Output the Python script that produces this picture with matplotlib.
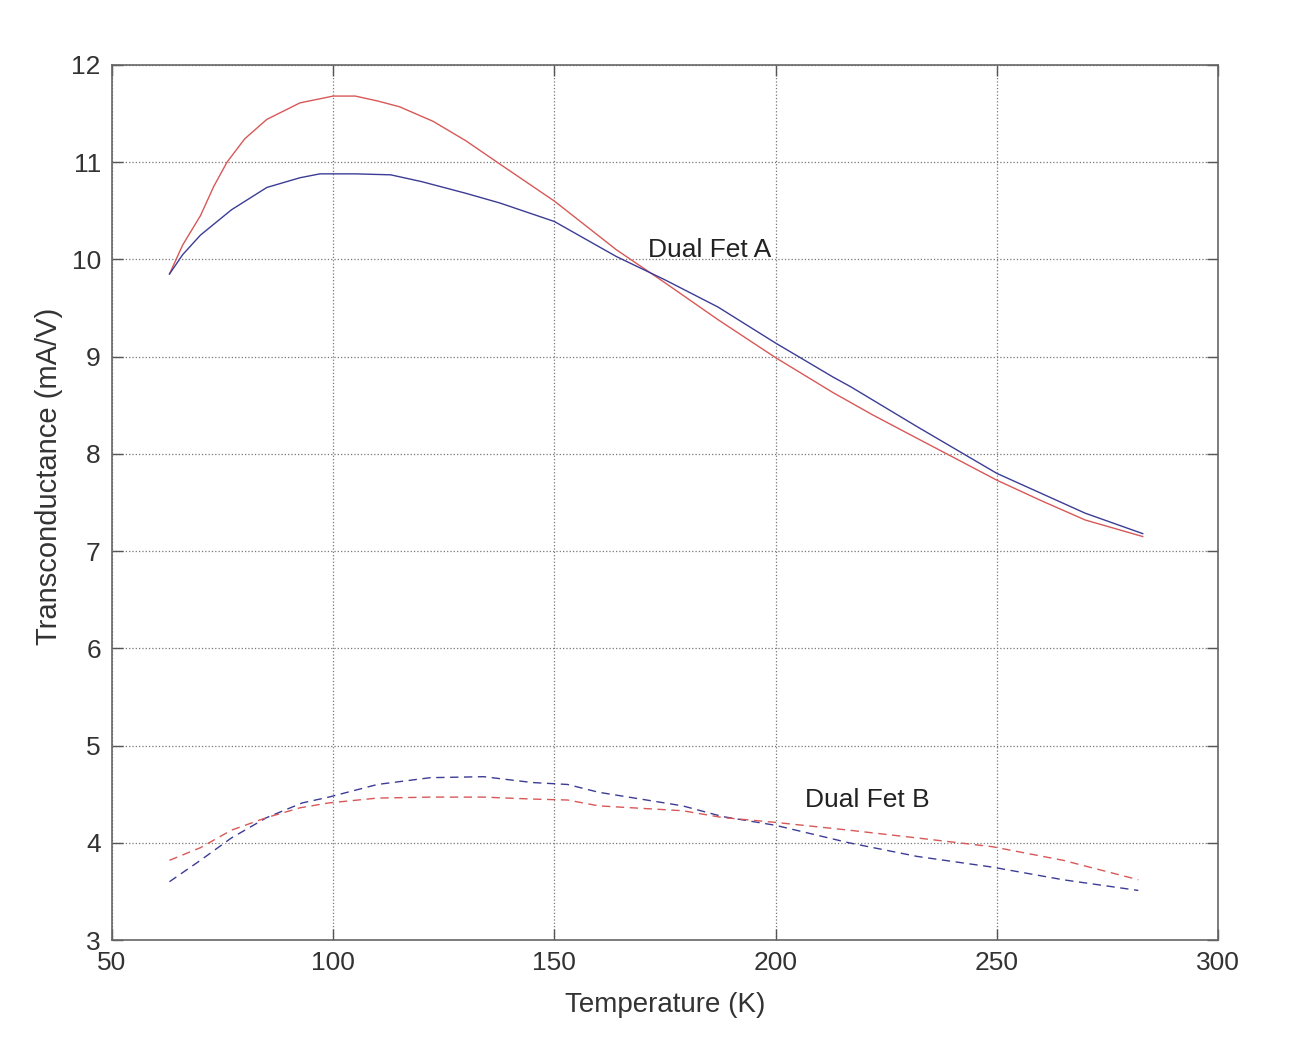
import matplotlib
matplotlib.use("Agg")
import matplotlib.pyplot as plt

plt.rcParams['font.family'] = ['Liberation Sans Narrow', 'Liberation Sans', 'DejaVu Sans']

# Dual Fet A (solid)
a_red_x = [63, 66, 70, 73, 76, 80, 85, 92.5, 100, 105, 110, 115, 122.6, 130, 137.7, 150,
           164, 175, 187, 200, 213, 222, 232, 250, 260, 270, 283]
a_red_y = [9.85, 10.15, 10.45, 10.75, 11.0, 11.24, 11.44, 11.61, 11.68, 11.68, 11.63, 11.57,
           11.42, 11.22, 10.98, 10.6, 10.1, 9.76, 9.38, 8.99, 8.63, 8.4, 8.16, 7.73, 7.52,
           7.32, 7.15]
a_blue_x = [63, 66, 70, 77, 85, 92.5, 97, 105, 113, 120, 130, 137.7, 150, 164, 175, 187,
            200, 213, 217, 232, 250, 270, 283]
a_blue_y = [9.85, 10.05, 10.25, 10.51, 10.74, 10.84, 10.88, 10.88, 10.87, 10.8, 10.68, 10.58,
            10.39, 10.03, 9.79, 9.51, 9.14, 8.79, 8.69, 8.28, 7.80, 7.39, 7.18]

# Dual Fet B (dashed)
b_blue_x = [63, 70, 77, 85, 93, 99, 110, 122, 134, 145, 153, 160, 179, 188, 200, 216.6,
            232, 249, 265, 282]
b_blue_y = [3.6, 3.82, 4.05, 4.26, 4.41, 4.47, 4.6, 4.67, 4.68, 4.62, 4.6, 4.52, 4.38, 4.27,
            4.18, 4.0, 3.86, 3.75, 3.62, 3.51]
b_red_x = [63, 70, 77, 85, 92.5, 99, 110, 122, 134, 145, 153, 160, 179, 188, 200, 216.6,
           232, 249, 265, 282]
b_red_y = [3.82, 3.95, 4.13, 4.26, 4.36, 4.41, 4.46, 4.47, 4.47, 4.45, 4.44, 4.38, 4.33, 4.26,
           4.21, 4.13, 4.05, 3.96, 3.82, 3.62]

x_ticks = [50, 100, 150, 200, 250, 300]
y_ticks = [3, 4, 5, 6, 7, 8, 9, 10, 11, 12]

red = '#d85858'
blue = '#3c3c96'
txt = '#333333'

fig = plt.figure(figsize=(12.99, 10.46), dpi=100)
ax = fig.add_axes([0.0862, 0.1013, 0.8514, 0.8366])

ax.plot(a_red_x, a_red_y, color=red, lw=1.0)
ax.plot(a_blue_x, a_blue_y, color=blue, lw=1.0)
ax.plot(b_blue_x, b_blue_y, color=blue, lw=1.0, linestyle=(0, (6, 4)))
ax.plot(b_red_x, b_red_y, color=red, lw=1.0, linestyle=(0, (6, 4)))

ax.text(171.2, 10.1, 'Dual Fet A', fontsize=19, color='#222222', va='center', ha='left')
ax.text(206.6, 4.44, 'Dual Fet B', fontsize=19, color='#222222', va='center', ha='left')

ax.set_xlim(50, 300)
ax.set_ylim(3, 12)
ax.set_xticks(x_ticks)
ax.set_yticks(y_ticks)
ax.grid(True, linestyle=':', color='#777777', linewidth=0.9)
ax.tick_params(direction='in', top=True, right=True, length=8, width=1,
               labelsize=19, colors='#555555', labelcolor=txt, pad=8)
for s in ax.spines.values():
    s.set_color('#666666')
    s.set_linewidth(1.2)

ax.set_xlabel('Temperature (K)', fontsize=20, color=txt, labelpad=12)
ax.set_ylabel('Transconductance (mA/V)', fontsize=21, color=txt, labelpad=2)
ax.yaxis.set_label_coords(-0.044, 0.53)

fig.savefig('out.png', dpi=100, facecolor='white')
